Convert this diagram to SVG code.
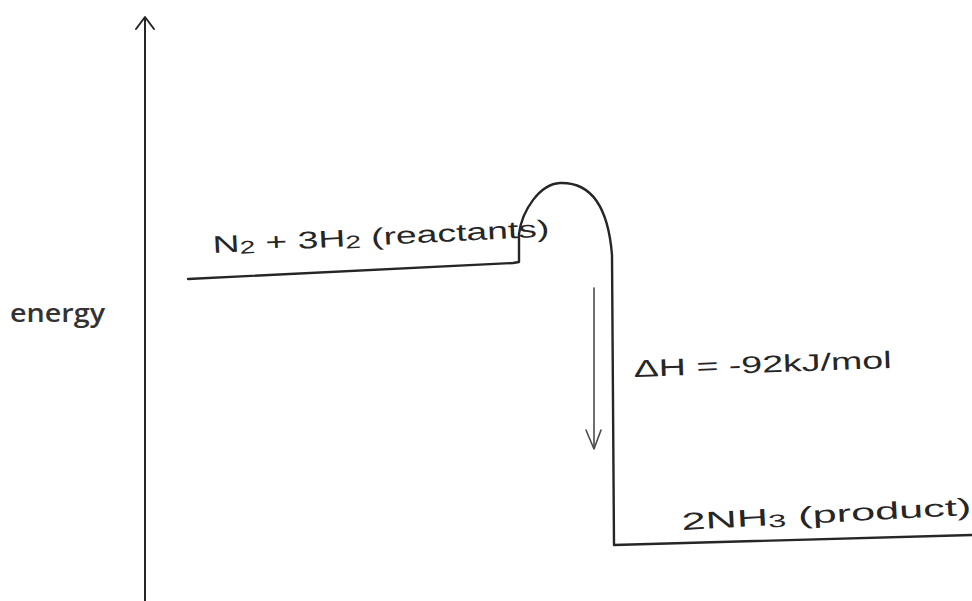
<svg xmlns="http://www.w3.org/2000/svg" width="972" height="601" viewBox="0 0 972 601">
<style>
.ink{fill:none;stroke:#262626;stroke-width:2.4;stroke-linecap:round;stroke-linejoin:round}
.thin{fill:none;stroke:#4a4a4a;stroke-width:1.6;stroke-linecap:round;stroke-linejoin:round}
.hand{font-family:"Liberation Sans","DejaVu Sans",sans-serif;fill:#262626;font-size:24px}
.sub{font-size:18px}
.lbl{font-family:"Open Sans","Liberation Sans",sans-serif;fill:#333;font-size:25px;font-weight:600}
</style>
<rect width="972" height="601" fill="#ffffff"/>
<g id="axis">
<line class="ink" x1="145" y1="601" x2="145" y2="18" style="stroke-width:2"/>
<polyline class="ink" points="136,29 145,17 154,29" style="stroke-width:2"/>
<text class="lbl" x="10" y="322" textLength="95" lengthAdjust="spacingAndGlyphs">energy</text>
</g>
<g id="connectors">
<path class="ink" d="M188 279 L513 263 L519 262 L519 234 C522 210 540 184 560 183 C590 182 608 205 612 255 L614 545 L972 535"/>
<line class="thin" x1="594" y1="288" x2="594" y2="448"/>
<polyline class="thin" points="586,430 594,449 601,430"/>
</g>
<g id="reactants">
<text class="hand" x="213" y="253" transform="rotate(-2.8 213 253)" textLength="337" lengthAdjust="spacingAndGlyphs">N<tspan class="sub" dy="2">2</tspan><tspan dy="-2"> + 3H</tspan><tspan class="sub" dy="2">2</tspan><tspan dy="-2"> (reactants)</tspan></text>
</g>
<g id="deltaH">
<text class="hand" x="634" y="377" transform="rotate(-2 634 377)" textLength="258" lengthAdjust="spacingAndGlyphs">ΔH = -92kJ/mol</text>
</g>
<g id="product">
<text class="hand" x="682" y="530" transform="rotate(-3 682 530)" textLength="290" lengthAdjust="spacingAndGlyphs">2NH<tspan class="sub" dy="2">3</tspan><tspan dy="-2"> (product)</tspan></text>
</g>
</svg>
